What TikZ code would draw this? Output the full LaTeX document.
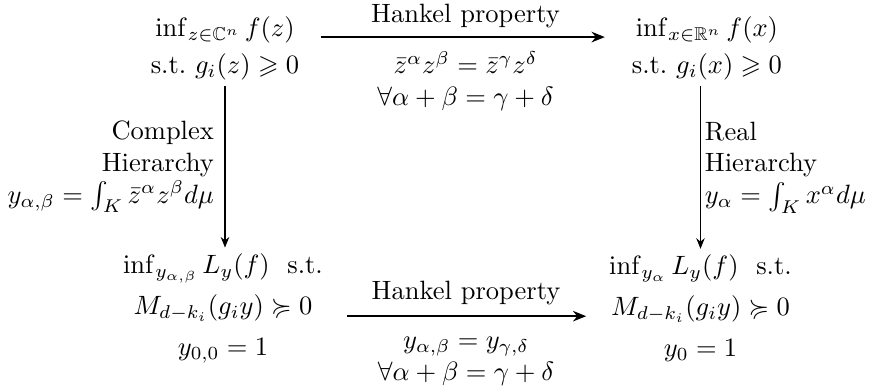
\documentclass[tikz,border=0pt]{standalone}
\usepackage{amsmath}
\usepackage{amssymb}
\usetikzlibrary{arrows.meta, positioning}
\tikzset{
  probnode/.style={align=center, inner sep=2pt},
  hierlabel/.style={font=\normalsize, inner sep=4pt},
  hanklabel/.style={align=center, inner sep=3pt},
  mainarrow/.style={-{Stealth[length=5pt,width=4pt]}, line width=0.8pt},
  lowarrow/.style={-{Stealth[length=5pt,width=4pt]}, line width=0.6pt},
  subarrow/.style={-{Stealth[length=4pt,width=3.2pt]}, line width=0.4pt}
}
\begin{document}
\begin{tikzpicture}
    \useasboundingbox (0,0) rectangle (11.525,5.133);
    % optimisation problems (top row)
    \node[probnode] (cpop) at (2.984,4.49)
      {$\inf_{z\in\mathbb{C}^n} f(z)$\\[2pt] s.t.\ $g_i(z)\geqslant 0$};
    \node[probnode] (rpop) at (9.375,4.49)
      {$\inf_{x\in\mathbb{R}^n} f(x)$\\[2pt] s.t.\ $g_i(x)\geqslant 0$};
    % moment relaxations (bottom row)
    \node[probnode] (cmom) at (2.957,1.045)
      {$\inf_{y_{\alpha,\beta}} L_y(f)$~~s.t.\\[3.5pt]
       $M_{d-k_i}(g_i y)\succcurlyeq 0$\\[3.5pt] $y_{0,0}=1$};
    \node[probnode] (rmom) at (9.29,1.045)
      {$\inf_{y_{\alpha}} L_y(f)$~~s.t.\\[3.5pt]
       $M_{d-k_i}(g_i y)\succcurlyeq 0$\\[3.5pt] $y_{0}=1$};

    \draw[mainarrow, shorten <=6pt, shorten >=8pt]
      ([yshift=4.3pt]cpop.east) -- ([yshift=4.3pt]rpop.west)
      node[midway, above, hanklabel] {Hankel property}
      node[midway, below, hanklabel, yshift=-2pt]
        {$\bar z^\alpha z^\beta = \bar z^\gamma z^\delta$\\
         $\forall \alpha+\beta=\gamma+\delta$};
    \draw[lowarrow, shorten <=7pt, shorten >=6.5pt]
      ([yshift=-3pt]cmom.east) -- ([yshift=-3pt]rmom.west)
      node[midway, above, hanklabel, yshift=1pt] {Hankel property}
      node[midway, below, hanklabel, yshift=-4.5pt]
        {$y_{\alpha,\beta}=y_{\gamma,\delta}$\\
         $\forall \alpha+\beta=\gamma+\delta$};

    \draw[subarrow] (cpop.south) -- (cpop.south |- cmom.north)
      node[midway, left, hierlabel, align=right]
        {Complex\\Hierarchy\\$y_{\alpha,\beta}=\int_K \bar z^\alpha z^\beta d\mu$};
    \draw[subarrow] (rmom.north |- rpop.south) -- (rmom.north)
      node[midway, right, hierlabel, inner sep=1.5pt, align=left]
        {Real\\Hierarchy\\$y_\alpha=\int_K x^\alpha d\mu$};
  \end{tikzpicture}
\end{document}
